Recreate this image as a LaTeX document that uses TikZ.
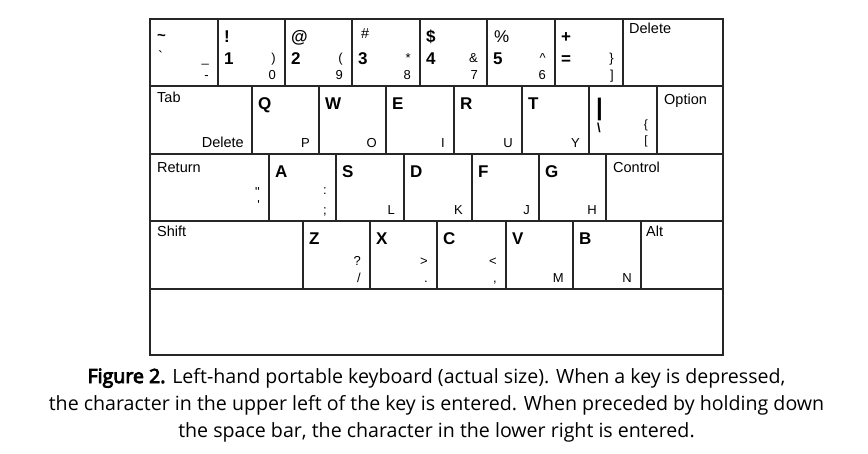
\documentclass[tikz,border=0pt]{standalone}
\usepackage{fontspec}
\newfontfamily\keyfont{Liberation Sans}[Ligatures=TeXOff]
\newfontfamily\capfont{Open Sans}[AutoFakeBold=4.5]
\newcommand\kk[5]{\node[keybox,minimum width={(#3-#2)*1pt},minimum height={(#5-#4)*1pt}] (#1) at (#2,-#4) {};}
\newcommand\kba[2]{\node[bigch] (#1a) at ([shift={(6,-23)}]#1.north west) {#2};}
\newcommand\kbb[2]{\node[bigch] (#1b) at ([shift={(6,-45)}]#1.north west) {#2};}
\newcommand\kup[2]{\node[smch] (#1c) at ([shift={(-9,24)}]#1.south east) {#2};}
\newcommand\klo[2]{\node[smch] (#1d) at ([shift={(-9,7)}]#1.south east) {#2};}
\newcommand\klab[2]{\node[labch] (#1l) at ([shift={(7,-16)}]#1.north west) {#2};}
\begin{document}
\begin{tikzpicture}[x=1pt,y=1pt,
  keybox/.style={draw=black!85,line width=1.1pt,inner sep=0pt,outer sep=0pt,rectangle,anchor=north west},
  bigch/.style={anchor=base west,inner sep=0pt,font=\keyfont\bfseries\fontsize{17}{17}\selectfont},
  smch/.style={anchor=base east,inner sep=0pt,font=\keyfont\fontsize{13}{13}\selectfont},
  labch/.style={anchor=base west,inner sep=0pt,font=\keyfont\fontsize{14.5}{14.5}\selectfont},
  capstyle/.style={anchor=base,inner sep=0pt,font=\capfont\fontsize{19.6}{19.6}\selectfont}]
\useasboundingbox (0,0) rectangle (868,-453);
% row 1
\kk{k11}{150}{218}{19}{86}
\kk{k12}{218}{285}{19}{86}
\kk{k13}{285}{352}{19}{86}
\kk{k14}{352}{420}{19}{86}
\kk{k15}{420}{487}{19}{86}
\kk{k16}{487}{555}{19}{86}
\kk{k17}{555}{623}{19}{86}
\kk{k18}{623}{723}{19}{86}
% row 2
\kk{k21}{150}{252}{86}{154}
\kk{k22}{252}{319}{86}{154}
\kk{k23}{319}{386}{86}{154}
\kk{k24}{386}{454}{86}{154}
\kk{k25}{454}{522}{86}{154}
\kk{k26}{522}{589}{86}{154}
\kk{k27}{589}{657}{86}{154}
\kk{k28}{657}{723}{86}{154}
% row 3
\kk{k31}{150}{269}{154}{221}
\kk{k32}{269}{336}{154}{221}
\kk{k33}{336}{404}{154}{221}
\kk{k34}{404}{472}{154}{221}
\kk{k35}{472}{539}{154}{221}
\kk{k36}{539}{606}{154}{221}
\kk{k37}{606}{723}{154}{221}
% row 4
\kk{k41}{150}{303}{221}{289}
\kk{k42}{303}{370}{221}{289}
\kk{k43}{370}{437}{221}{289}
\kk{k44}{437}{506}{221}{289}
\kk{k45}{506}{573}{221}{289}
\kk{k46}{573}{641}{221}{289}
\kk{k47}{641}{723}{221}{289}
% space bar
\kk{k51}{150}{723}{289}{355}
\draw[line width=1.8pt,draw=black!85] (k11.north west) rectangle (k51.south east);
% row 1 labels
\node[labch,font=\keyfont\bfseries\fontsize{15}{15}\selectfont] (k11a) at ([shift={(7,-21)}]k11.north west) {\textasciitilde};
\node[labch] (k11b) at ([shift={(8,-42)}]k11.north west) {`};
\kup{k11}{\_}
\klo{k11}{-}
\kba{k12}{!}\kbb{k12}{1}\kup{k12}{)}\klo{k12}{0}
\kba{k13}{@}\kbb{k13}{2}\kup{k13}{(}\klo{k13}{9}
\node[labch] (k14a) at ([shift={(9,-19)}]k14.north west) {\#};
\kbb{k14}{3}\kup{k14}{*}\klo{k14}{8}
\kba{k15}{\$}\kbb{k15}{4}\kup{k15}{\&}\klo{k15}{7}
\node[bigch,font=\keyfont\fontsize{17}{17}\selectfont] (k16a) at ([shift={(7,-23)}]k16.north west) {\%};
\kbb{k16}{5}\kup{k16}{\textasciicircum}\klo{k16}{6}
\kba{k17}{+}\kbb{k17}{=}\kup{k17}{\}}\klo{k17}{]}
\node[labch] (k18l) at ([shift={(6,-14)}]k18.north west) {Delete};
% row 2 labels
\klab{k21}{Tab}
\node[labch,anchor=base east] (k21d) at ([shift={(-8,7)}]k21.south east) {Delete};
\kba{k22}{Q}\klo{k22}{P}
\kba{k23}{W}\klo{k23}{O}
\kba{k24}{E}\klo{k24}{I}
\kba{k25}{R}\klo{k25}{U}
\kba{k26}{T}\klo{k26}{Y}
\node[bigch,font=\keyfont\bfseries\fontsize{24}{24}\selectfont] (k27a) at ([shift={(7,-29)}]k27.north west) {|};
\node[bigch,font=\keyfont\bfseries\fontsize{13}{13}\selectfont] (k27b) at ([shift={(8,-46)}]k27.north west) {\textbackslash};
\node[smch,font=\keyfont\fontsize{12}{12}\selectfont] (k27c) at ([shift={(-9,26)}]k27.south east) {\{};
\node[smch,font=\keyfont\fontsize{12}{12}\selectfont] (k27d) at ([shift={(-9,10)}]k27.south east) {[};
\node[labch] (k28l) at ([shift={(7,-18)}]k28.north west) {Option};
% row 3 labels
\node[labch] (k31l) at ([shift={(7,-18)}]k31.north west) {Return};
\node[smch] (k31c) at ([shift={(-9,25)}]k31.south east) {"};
\node[smch] (k31d) at ([shift={(-9,12)}]k31.south east) {'};
\kba{k32}{A}
\node[smch] (k32c) at ([shift={(-9,27)}]k32.south east) {:};
\klo{k32}{;}
\kba{k33}{S}\klo{k33}{L}
\kba{k34}{D}\klo{k34}{K}
\kba{k35}{F}\klo{k35}{J}
\kba{k36}{G}\klo{k36}{H}
\node[labch] (k37l) at ([shift={(7,-18)}]k37.north west) {Control};
% row 4 labels
\node[labch] (k41l) at ([shift={(7,-15)}]k41.north west) {Shift};
\kba{k42}{Z}\kup{k42}{?}\klo{k42}{/}
\kba{k43}{X}\kup{k43}{>}\klo{k43}{.}
\kba{k44}{C}\kup{k44}{<}\klo{k44}{,}
\kba{k45}{V}\klo{k45}{M}
\kba{k46}{B}\klo{k46}{N}
\node[labch] (k47l) at ([shift={(5,-15)}]k47.north west) {Alt};
% caption
\node[capstyle] (cap1) at (436.5,-383) {\textbf{Figure 2.} Left-hand portable keyboard (actual size). When a key is depressed,};
\node[capstyle] (cap2) at (436.5,-410) {the character in the upper left of the key is entered. When preceded by holding down};
\node[capstyle] (cap3) at (436.5,-437) {the space bar, the character in the lower right is entered.};
\end{tikzpicture}
\end{document}
